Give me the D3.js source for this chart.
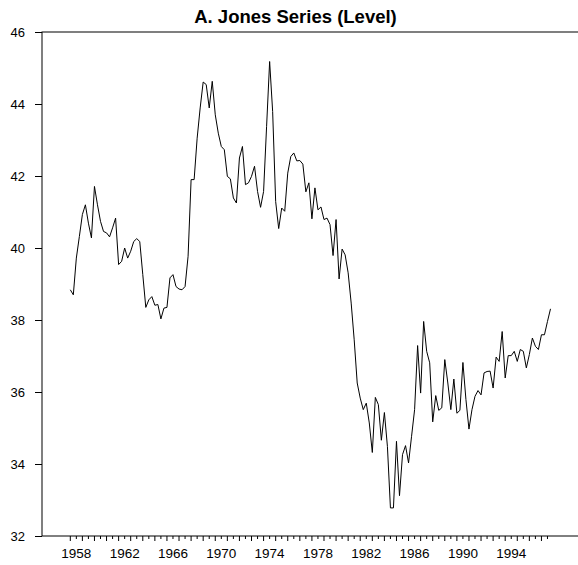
<!DOCTYPE html>
<html>
<head>
<meta charset="utf-8">
<script src="https://cdn.jsdelivr.net/npm/d3@7"></script>
<style>
  body { margin: 0; background: #fff; }
  svg { display: block; font-family: "Liberation Sans", Arial, Helvetica, sans-serif; }
</style>
</head>
<body>
<div id="chart"></div>
<script>
// quarterly series, first observation 1957 Q3
const startYear = 1957.5
const values = [
    38.84, 38.70, 39.72, 40.32, 40.93, 41.20, 40.69, 40.28, 41.71, 41.20,
    40.74, 40.46, 40.42, 40.31, 40.56, 40.83, 39.54, 39.63, 40.00, 39.72,
    39.91, 40.18, 40.26, 40.18, 39.26, 38.35, 38.56, 38.65, 38.41, 38.43,
    38.03, 38.33, 38.35, 39.17, 39.26, 38.93, 38.86, 38.84, 38.93, 39.77,
    41.90, 41.90, 43.05, 43.89, 44.61, 44.54, 43.89, 44.63, 43.70, 43.19,
    42.82, 42.73, 41.99, 41.92, 41.39, 41.25, 42.50, 42.82, 41.76, 41.81,
    41.99, 42.27, 41.57, 41.13, 41.57, 43.38, 45.18, 43.79, 41.29, 40.54,
    41.11, 41.02, 42.08, 42.54, 42.64, 42.42, 42.43, 42.33, 41.56, 41.81,
    40.81, 41.67, 41.06, 41.14, 40.79, 40.83, 40.65, 39.79, 40.79, 39.14,
    39.97, 39.81, 39.31, 38.47, 37.45, 36.25, 35.83, 35.51, 35.69, 35.14,
    34.32, 35.85, 35.65, 34.66, 35.43, 34.49, 32.78, 32.78, 34.63, 33.12,
    34.26, 34.51, 34.03, 34.77, 35.51, 37.29, 35.97, 37.96, 37.13, 36.81,
    35.17, 35.90, 35.49, 35.56, 36.90, 36.25, 35.51, 36.36, 35.41, 35.49,
    36.82, 35.79, 34.97, 35.51, 35.88, 36.04, 35.92, 36.53, 36.57, 36.58,
    36.11, 36.97, 36.85, 37.68, 36.39, 37.01, 37.01, 37.13, 36.85, 37.18,
    37.13, 36.67, 37.04, 37.50, 37.27, 37.18, 37.59, 37.59, 37.96, 38.31
]
const yTickValues = [32, 34, 36, 38, 40, 42, 44, 46]
const xLabelYears = [1958, 1962, 1966, 1970, 1974, 1978, 1982, 1986, 1990, 1994]
const title = "A. Jones Series (Level)"

const width = 578, height = 565
const frame = { left: 42, top: 32, bottom: 536 }

const data = values.map((v, i) => ({ t: startYear + i / 4, v: v }))
const lastT = data[data.length - 1].t

const svg = d3.select("#chart")
    .append("svg")
    .attr("width", width)
    .attr("height", height)

/* scales */
const x = d3.scaleLinear()
    .domain([startYear, lastT])
    .range([70.3, 550.5])

const y = d3.scaleLinear()
    .domain([32, 46])
    .range([frame.bottom, frame.top])

/* box: left, top and bottom edges, right edge runs off the page */
svg.append("rect")
    .attr("x", frame.left)
    .attr("y", frame.top)
    .attr("width", 700)
    .attr("height", frame.bottom - frame.top)
    .attr("fill", "none")
    .attr("stroke", "#000")
    .attr("stroke-width", 1)

/* y axis */
const yAxis = svg.append("g")
    .attr("transform", `translate(${frame.left}, 0)`)
    .call(d3.axisLeft(y).tickValues(yTickValues).tickSize(7).tickPadding(10).tickFormat(d3.format("d")))
yAxis.select(".domain").remove()
yAxis.selectAll("text")
    .attr("font-size", 13)
    .attr("font-family", "Liberation Sans, Arial, sans-serif")
    .attr("fill", "#000")

/* x axis: half-year ticks, year labels every four years */
const halfYears = d3.range(startYear, 1997.01, 0.5)
const xAxis = svg.append("g")
    .attr("transform", `translate(0, ${frame.bottom})`)
xAxis.selectAll("line")
    .data(halfYears)
    .enter()
    .append("line")
    .attr("x1", d => x(d))
    .attr("x2", d => x(d))
    .attr("y1", 0)
    .attr("y2", d => (d - startYear) % 1 === 0 ? 5 : 3)
    .attr("stroke", "#000")
    .attr("stroke-width", 1)
xAxis.selectAll("text")
    .data(xLabelYears)
    .enter()
    .append("text")
    .attr("x", d => x(d))
    .attr("y", 22)
    .attr("text-anchor", "middle")
    .attr("font-size", 13.5)
    .text(d => d)

/* series */
svg.append("path")
    .datum(data)
    .attr("fill", "none")
    .attr("stroke", "#000")
    .attr("stroke-width", 1)
    .attr("d", d3.line().x(d => x(d.t)).y(d => y(d.v)))

/* title */
svg.append("text")
    .attr("x", 295.5)
    .attr("y", 23)
    .attr("text-anchor", "middle")
    .attr("font-size", 18.5)
    .attr("font-weight", "bold")
    .text(title)
</script>
</body>
</html>
